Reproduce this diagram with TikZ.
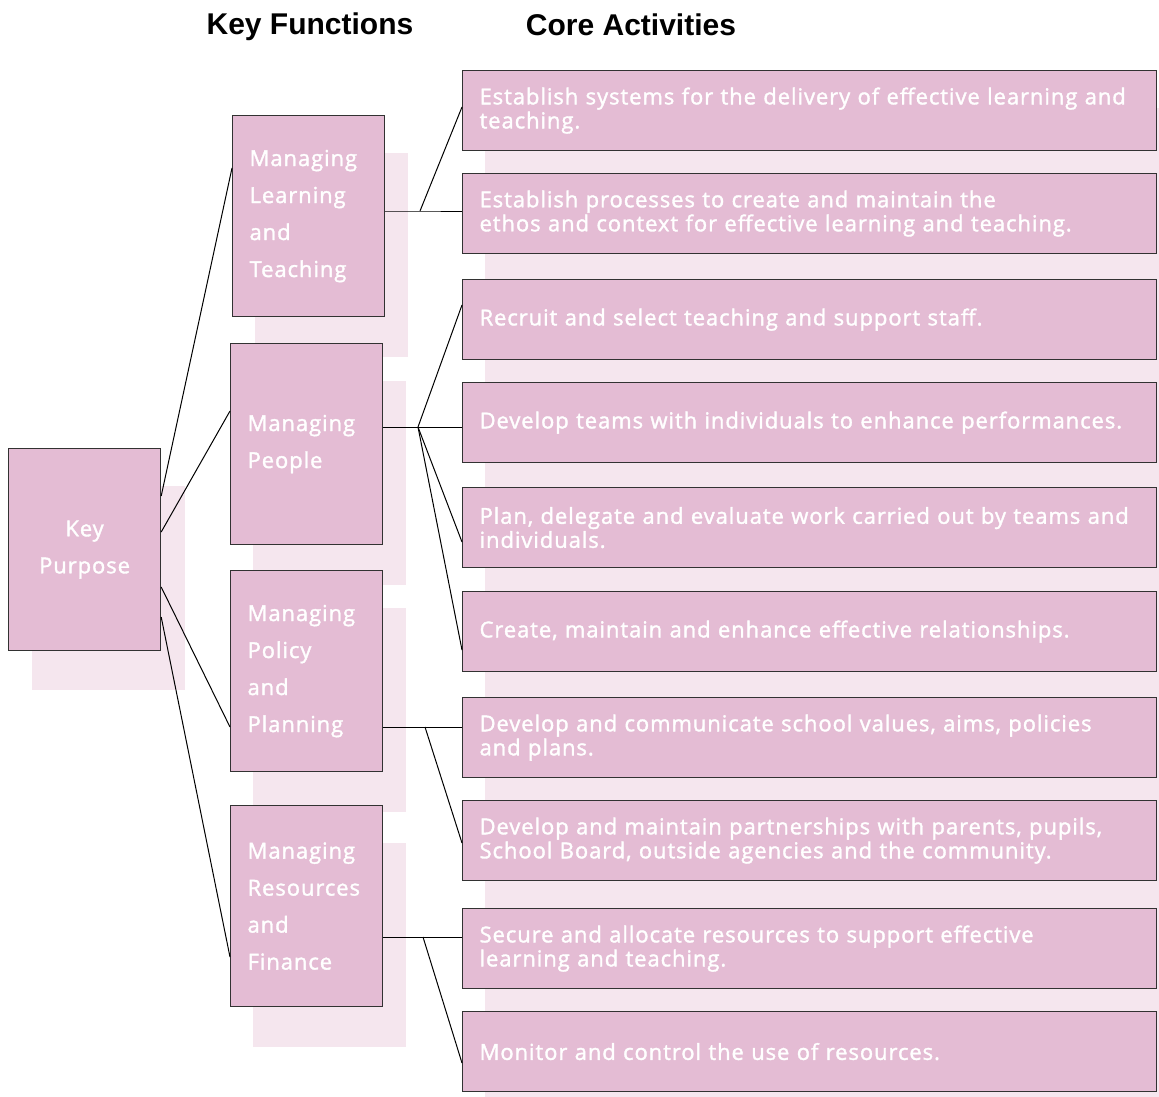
\documentclass[tikz,border=0pt]{standalone}
\usepackage{fontspec}
\setmainfont[LetterSpace=4.2, FakeBold=1.6]{Open Sans}
\newfontfamily\titlefont{Liberation Sans}
\definecolor{boxpink}{RGB}{228,188,212}
\definecolor{shadowpink}{RGB}{245,230,238}
\definecolor{edgegray}{RGB}{50,50,50}
\newcommand\acttext{\fontsize{22}{24}\selectfont}
\newcommand\functext{\fontsize{22}{37}\selectfont}
\newcommand\headtext{\titlefont\bfseries\fontsize{30}{34}\selectfont}
\begin{document}
\begin{tikzpicture}[x=1pt,y=-1pt,
  pinkbox/.style={draw=edgegray, line width=1.2pt, fill=boxpink, text=white,
    inner ysep=0pt, anchor=north west},
  funcbox/.style={pinkbox, minimum height=201, text width=118, inner xsep=17,
    align=left, font=\functext},
  actbox/.style={pinkbox, minimum height=80, text width=660, inner xsep=17,
    align=left, font=\acttext},
  shadowfill/.style={fill=shadowpink},
  conn/.style={draw=black, line width=1pt},
  heading/.style={font=\headtext, text=black, inner sep=0pt}]
\useasboundingbox (0,0) rectangle (1159,1096);
\clip (0,0) rectangle (1159,1096);

% headings
\node[heading] (h1) at (310,27) {Key Functions};
\node[heading] (h2) at (631,25) {Core Activities};

% shadows
\fill[shadowfill] (32,486) rectangle (185,690);
\fill[shadowfill] (255,153) rectangle (408,357);
\fill[shadowfill] (253,381) rectangle (406,585);
\fill[shadowfill] (253,608) rectangle (406,812);
\fill[shadowfill] (253,843) rectangle (406,1047);
\fill[shadowfill] (485,108) rectangle (1200,1140);

% key purpose
\node[pinkbox, minimum width=152, minimum height=202, align=center, inner xsep=0pt,
  font=\functext] (kp) at (8,448) {Key\\Purpose};

% functions
\node[funcbox] (f1) at (232,115) {Managing\\Learning\\and\\Teaching};
\node[funcbox] (f2) at (230,343) {Managing\\People};
\node[funcbox] (f3) at (230,570) {Managing\\Policy\\and\\Planning};
\node[funcbox] (f4) at (230,805) {Managing\\Resources\\and\\Finance};

% activities
\node[actbox] (a1) at (462,70) {Establish systems for the delivery of effective learning and\\teaching.};
\node[actbox] (a2) at (462,173) {Establish processes to create and maintain the\\ethos and context for effective learning and teaching.};
\node[actbox] (a3) at (462,279) {Recruit and select teaching and support staff.};
\node[actbox] (a4) at (462,382) {Develop teams with individuals to enhance performances.};
\node[actbox] (a5) at (462,487) {Plan, delegate and evaluate work carried out by teams and\\individuals.};
\node[actbox] (a6) at (462,591) {Create, maintain and enhance effective relationships.};
\node[actbox] (a7) at (462,697) {Develop and communicate school values, aims, policies\\and plans.};
\node[actbox] (a8) at (462,800) {Develop and maintain partnerships with parents, pupils,\\School Board, outside agencies and the community.};
\node[actbox] (a9) at (462,908) {Secure and allocate resources to support effective\\learning and teaching.};
\node[actbox] (a10) at (462,1011) {Monitor and control the use of resources.};

% key purpose to functions
\draw[conn] ([shift={(0,48)}]kp.north east) -- ([shift={(0,53)}]f1.north west);
\draw[conn] ([shift={(0,84)}]kp.north east) -- ([shift={(0,68)}]f2.north west);
\draw[conn] ([shift={(0,139)}]kp.north east) -- ([shift={(0,157)}]f3.north west);
\draw[conn] ([shift={(0,169)}]kp.north east) -- ([shift={(0,152)}]f4.north west);

% junctions
\coordinate (j1) at (420,211);
\coordinate (j2) at (418,427);
\coordinate (j3) at (425,727);
\coordinate (j4) at (423,937);

\draw[conn] (f1.east |- j1) -- (j1) -- (a2.west |- j1);
\draw[conn] (j1) -- ([shift={(0,37)}]a1.north west);

\draw[conn] (f2.east |- j2) -- (j2) -- (a4.west |- j2);
\draw[conn] (j2) -- ([shift={(0,26)}]a3.north west);
\draw[conn] (j2) -- ([shift={(0,55)}]a5.north west);
\draw[conn] (j2) -- ([shift={(0,59)}]a6.north west);

\draw[conn] (f3.east |- j3) -- (j3) -- (a7.west |- j3);
\draw[conn] (j3) -- ([shift={(0,43)}]a8.north west);

\draw[conn] (f4.east |- j4) -- (j4) -- (a9.west |- j4);
\draw[conn] (j4) -- ([shift={(0,52)}]a10.north west);
\end{tikzpicture}
\end{document}
